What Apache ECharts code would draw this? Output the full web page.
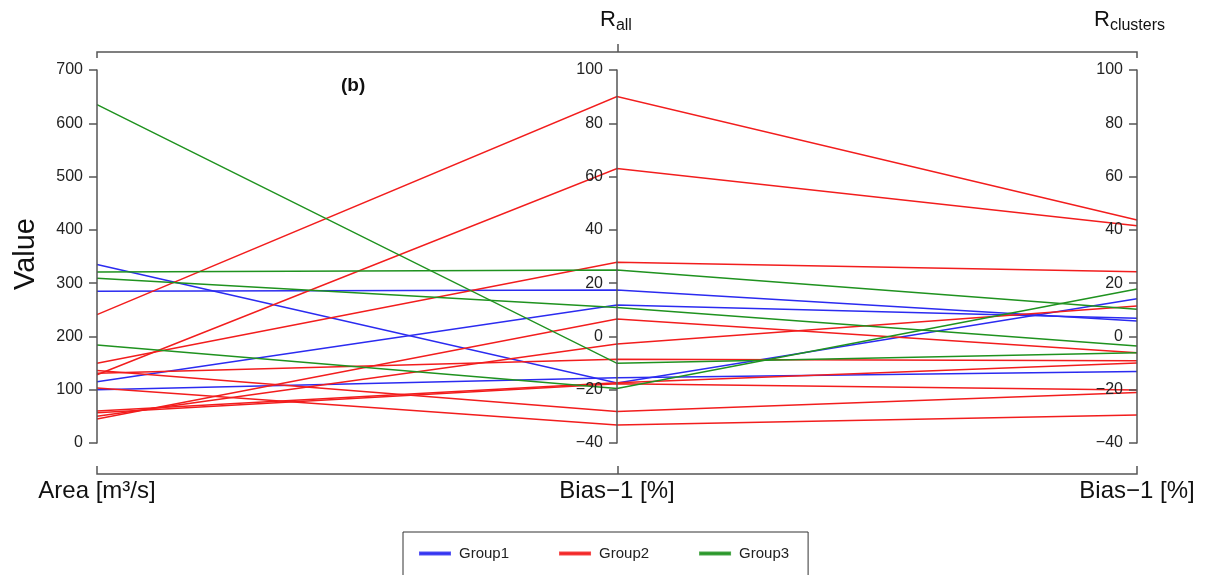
<!DOCTYPE html>
<html>
<head>
<meta charset="utf-8">
<script src="https://cdn.jsdelivr.net/npm/echarts@6/dist/echarts.min.js"></script>
<style>
  html, body { margin: 0; padding: 0; background: #fff; }
  #chart { width: 1207px; height: 575px; }
</style>
</head>
<body>
<div id="chart"></div>
<script>
// each row: [Area, Bias-1 R_all, Bias-1 R_clusters]
const axisNames = ['Area [m\u00b3/s]', 'Bias\u22121 [%]', 'Bias\u22121 [%]'];
const groupNames = ['Group1', 'Group2', 'Group3'];

const group1 = [
  [335, -17.5, 14.1],
  [285, 17.4, 5.8],
  [115, 11.8, 6.8],
  [100, -15.5, -13.2]
];
const group2 = [
  [241, 90, 43.7],
  [128, 63, 41.5],
  [149.5, 27.8, 24.3],
  [45, 6.5, -6.1],
  [50, -2.8, 11.4],
  [131, -8.6, -9.1],
  [60, -17.4, -10],
  [57, -17.8, -20.1],
  [136, -28.2, -21],
  [103, -33.2, -29.5]
];
const group3 = [
  [635, -10.1, -6.1],
  [321, 24.9, 10.2],
  [309, 10.9, -3.6],
  [184, -19.5, 17.8]
];

const colors = ['#2b2bf0', '#f21d1d', '#1f921f'];
const font = 'Liberation Sans, Arial, sans-serif';

const myChart = echarts.init(document.getElementById('chart'));

const axisCommon = {
  nameLocation: 'start',
  nameGap: 36,
  nameTextStyle: { fontSize: 24, color: '#111', fontFamily: font },
  axisLine: { lineStyle: { color: '#555', width: 1.5 } },
  // ticks and labels on the left of each axis
  axisTick: { length: -8, lineStyle: { color: '#555', width: 1.5 } },
  axisLabel: {
    fontSize: 16, color: '#222', fontFamily: font, margin: -14, align: 'right',
    formatter: function (v) { return String(v).replace('-', '\u2212'); }
  },
  splitLine: { show: false }
};

const option = {
  backgroundColor: '#fff',
  animation: false,
  color: colors,
  parallel: {
    left: 97,
    right: 70,
    top: 70,
    bottom: 132,
    parallelAxisDefault: axisCommon
  },
  parallelAxis: [
    { dim: 0, name: axisNames[0], min: 0, max: 700, interval: 100 },
    { dim: 1, name: axisNames[1], min: -40, max: 100, interval: 20 },
    { dim: 2, name: axisNames[2], min: -40, max: 100, interval: 20 }
  ],
  legend: {
    left: 403,
    top: 532,
    width: 405,
    itemWidth: 30,
    itemHeight: 2,
    itemGap: 50,
    padding: [14, 19, 40, 16],
    borderColor: '#333',
    borderWidth: 1,
    borderRadius: 0,
    textStyle: { fontSize: 15, color: '#222', fontFamily: font, padding: [0, 0, 0, 4] },
    data: groupNames.map(function (n, i) {
      return { name: n, icon: 'rect', itemStyle: { color: colors[i], opacity: 0.8 } };
    })
  },
  graphic: [
    // top bracket
    { type: 'polyline', shape: { points: [[97, 58], [97, 52], [1137, 52], [1137, 58]] }, style: { stroke: '#555', lineWidth: 1.5, fill: null } },
    { type: 'line', shape: { x1: 618, y1: 44, x2: 618, y2: 52 }, style: { stroke: '#555', lineWidth: 1.5 } },
    // bottom bracket
    { type: 'polyline', shape: { points: [[97, 466], [97, 474], [1137, 474], [1137, 466]] }, style: { stroke: '#555', lineWidth: 1.5, fill: null } },
    { type: 'line', shape: { x1: 618, y1: 466, x2: 618, y2: 474 }, style: { stroke: '#555', lineWidth: 1.5 } },
    {
      type: 'text', left: 600, top: 9,
      style: {
        text: '{a|R}{s|all}',
        rich: {
          a: { fontSize: 22, fill: '#111', fontFamily: font },
          s: { fontSize: 16, fill: '#111', fontFamily: font, padding: [11, 0, 0, 0] }
        }
      }
    },
    {
      type: 'text', left: 1094, top: 9,
      style: {
        text: '{a|R}{s|clusters}',
        rich: {
          a: { fontSize: 22, fill: '#111', fontFamily: font },
          s: { fontSize: 16, fill: '#111', fontFamily: font, padding: [11, 0, 0, 0] }
        }
      }
    },
    { type: 'text', left: 341, top: 76, style: { text: '(b)', fontSize: 19, fontWeight: 'bold', fill: '#111', fontFamily: font } },
    { type: 'text', left: 11, top: 218, rotation: Math.PI / 2, style: { text: 'Value', fontSize: 29, fill: '#111', fontFamily: font } }
  ],
  series: [group1, group2, group3].map(function (rows, i) {
    return {
      name: groupNames[i],
      type: 'parallel',
      data: rows,
      lineStyle: { color: colors[i], width: 1.5, opacity: 1 },
      emphasis: { disabled: true }
    };
  })
};

myChart.setOption(option);
</script>
</body>
</html>
